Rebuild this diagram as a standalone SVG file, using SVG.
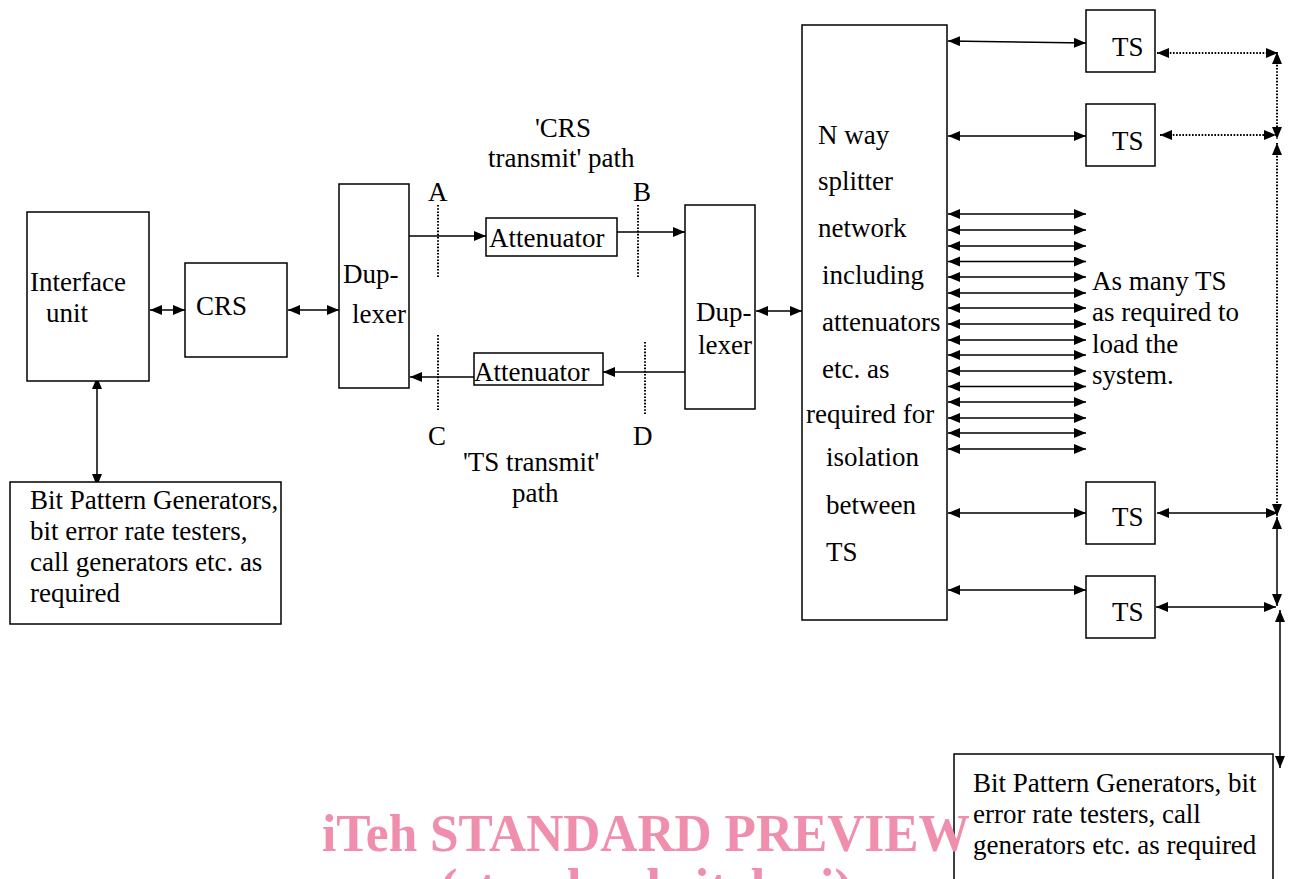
<svg xmlns="http://www.w3.org/2000/svg" width="1289" height="879" viewBox="0 0 1289 879">
<style>
.box{fill:#fff;stroke:#000;stroke-width:1.5}
.t{font-family:"Liberation Serif","Times New Roman",serif;font-size:27px;fill:#000}
.ln{fill:none;stroke:#000;stroke-width:1.5}
.dt{fill:none;stroke:#000;stroke-width:2;stroke-dasharray:1.6 1.6}
.da{marker-start:url(#ah);marker-end:url(#ah)}
.ea{marker-end:url(#ah)}
.wm{font-family:"Liberation Serif","Times New Roman",serif;font-weight:bold;font-size:53px;fill:#ef8fad}
</style>
<defs>
<marker id="ah" markerUnits="userSpaceOnUse" markerWidth="13" markerHeight="11" refX="12" refY="5" orient="auto-start-reverse" viewBox="0 0 13 11">
<path d="M0,0 L12,5 L0,10 z" fill="#000"/>
</marker>
</defs>
<rect width="1289" height="879" fill="#fff"/>

<g id="connectors">
<line class="ln da" x1="150" y1="310" x2="185" y2="310"/>
<line class="ln da" x1="288" y1="310" x2="339" y2="310"/>
<line class="ln da" x1="756" y1="311" x2="802" y2="311"/>
<line class="ln da" x1="97" y1="377" x2="97" y2="486"/>
<line class="ln ea" x1="409" y1="236" x2="486" y2="236"/>
<line class="ln ea" x1="617" y1="232" x2="685" y2="232"/>
<line class="ln ea" x1="685" y1="372" x2="603" y2="372"/>
<line class="ln ea" x1="474" y1="377" x2="410" y2="377"/>
<line class="dt" x1="438" y1="205" x2="438" y2="278"/>
<line class="dt" x1="638" y1="205" x2="638" y2="278"/>
<line class="dt" x1="438" y1="335" x2="438" y2="410"/>
<line class="dt" x1="645" y1="342" x2="645" y2="415"/>
<line class="ln da" x1="948" y1="41" x2="1086" y2="43"/>
<line class="ln da" x1="948" y1="136" x2="1086" y2="136"/>
<line class="ln da" x1="948" y1="513" x2="1086" y2="513"/>
<line class="ln da" x1="948" y1="590" x2="1086" y2="590"/>
<g id="multi">
<line class="ln da" x1="948" y1="214" x2="1086" y2="214"/>
<line class="ln da" x1="948" y1="230" x2="1086" y2="230"/>
<line class="ln da" x1="948" y1="246" x2="1086" y2="246"/>
<line class="ln da" x1="948" y1="261.5" x2="1086" y2="261.5"/>
<line class="ln da" x1="948" y1="277" x2="1086" y2="277"/>
<line class="ln da" x1="948" y1="293" x2="1086" y2="293"/>
<line class="ln da" x1="948" y1="308" x2="1086" y2="308"/>
<line class="ln da" x1="948" y1="324" x2="1086" y2="324"/>
<line class="ln da" x1="948" y1="340" x2="1086" y2="340"/>
<line class="ln da" x1="948" y1="355" x2="1086" y2="355"/>
<line class="ln da" x1="948" y1="371" x2="1086" y2="371"/>
<line class="ln da" x1="948" y1="386.5" x2="1086" y2="386.5"/>
<line class="ln da" x1="948" y1="402" x2="1086" y2="402"/>
<line class="ln da" x1="948" y1="418" x2="1086" y2="418"/>
<line class="ln da" x1="948" y1="433" x2="1086" y2="433"/>
<line class="ln da" x1="948" y1="449" x2="1086" y2="449"/>
</g>
<line class="dt da" x1="1157" y1="53" x2="1278" y2="53"/>
<line class="dt da" x1="1160" y1="135" x2="1276" y2="135"/>
<line class="ln da" x1="1157" y1="513" x2="1278" y2="513"/>
<line class="ln da" x1="1156" y1="607" x2="1276" y2="607"/>
<line class="dt da" x1="1277" y1="52" x2="1277" y2="139"/>
<line class="dt da" x1="1277" y1="143" x2="1277" y2="516"/>
<line class="ln da" x1="1277" y1="517" x2="1277" y2="606"/>
<line class="ln da" x1="1280" y1="610" x2="1280" y2="768"/>
</g>

<g id="interface">
<rect class="box" x="27" y="212" width="122" height="169"/>
<text class="t" x="30" y="291">Interface</text>
<text class="t" x="46" y="322">unit</text>
</g>
<g id="crs">
<rect class="box" x="185" y="263" width="102" height="94"/>
<text class="t" x="196" y="315">CRS</text>
</g>
<g id="duplexer1">
<rect class="box" x="339" y="184" width="70" height="204"/>
<text class="t" x="343" y="283">Dup-</text>
<text class="t" x="352" y="323">lexer</text>
</g>
<g id="attenuator1">
<rect class="box" x="486" y="218" width="131" height="38"/>
<text class="t" x="489" y="247">Attenuator</text>
</g>
<g id="attenuator2">
<rect class="box" x="474" y="353" width="129" height="32"/>
<text class="t" x="474" y="381">Attenuator</text>
</g>
<g id="duplexer2">
<rect class="box" x="685" y="205" width="70" height="204"/>
<text class="t" x="696" y="321">Dup-</text>
<text class="t" x="698" y="354">lexer</text>
</g>
<g id="labels">
<text class="t" x="428" y="201">A</text>
<text class="t" x="633" y="201">B</text>
<text class="t" x="428" y="445">C</text>
<text class="t" x="633" y="445">D</text>
<text class="t" x="535" y="137">'CRS</text>
<text class="t" x="488" y="167">transmit' path</text>
<text class="t" x="463" y="471">'TS transmit'</text>
<text class="t" x="512" y="502">path</text>
<text class="t" x="1092" y="290">As many TS</text>
<text class="t" x="1092" y="321">as required to</text>
<text class="t" x="1092" y="353">load the</text>
<text class="t" x="1092" y="384">system.</text>
</g>
<g id="splitter">
<rect class="box" x="802" y="25" width="145" height="595"/>
<text class="t" x="818" y="144">N way</text>
<text class="t" x="818" y="190">splitter</text>
<text class="t" x="818" y="237">network</text>
<text class="t" x="822" y="284">including</text>
<text class="t" x="822" y="331">attenuators</text>
<text class="t" x="822" y="378">etc. as</text>
<text class="t" x="806" y="423">required for</text>
<text class="t" x="826" y="466">isolation</text>
<text class="t" x="826" y="514">between</text>
<text class="t" x="826" y="561">TS</text>
</g>
<g id="ts1">
<rect class="box" x="1086" y="10" width="69" height="62"/>
<text class="t" x="1112" y="56">TS</text>
</g>
<g id="ts2">
<rect class="box" x="1086" y="104" width="69" height="62"/>
<text class="t" x="1112" y="150">TS</text>
</g>
<g id="ts3">
<rect class="box" x="1086" y="482" width="69" height="62"/>
<text class="t" x="1112" y="526">TS</text>
</g>
<g id="ts4">
<rect class="box" x="1086" y="576" width="69" height="62"/>
<text class="t" x="1112" y="621">TS</text>
</g>
<g id="bpg-left">
<rect class="box" x="10" y="482" width="271" height="142"/>
<text class="t" x="30" y="509">Bit Pattern Generators,</text>
<text class="t" x="30" y="540">bit error rate testers,</text>
<text class="t" x="30" y="571">call generators etc. as</text>
<text class="t" x="30" y="602">required</text>
</g>
<g id="bpg-right">
<rect class="box" x="954" y="754" width="319" height="140"/>
<text class="t" x="973" y="792">Bit Pattern Generators, bit</text>
<text class="t" x="973" y="823">error rate testers, call</text>
<text class="t" x="973" y="854">generators etc. as required</text>
</g>
<g id="watermark">
<text class="wm" x="322" y="851" textLength="648" lengthAdjust="spacingAndGlyphs">iTeh STANDARD PREVIEW</text>
<text class="wm" x="646" y="905" text-anchor="middle">(standards.iteh.ai)</text>
</g>
</svg>
